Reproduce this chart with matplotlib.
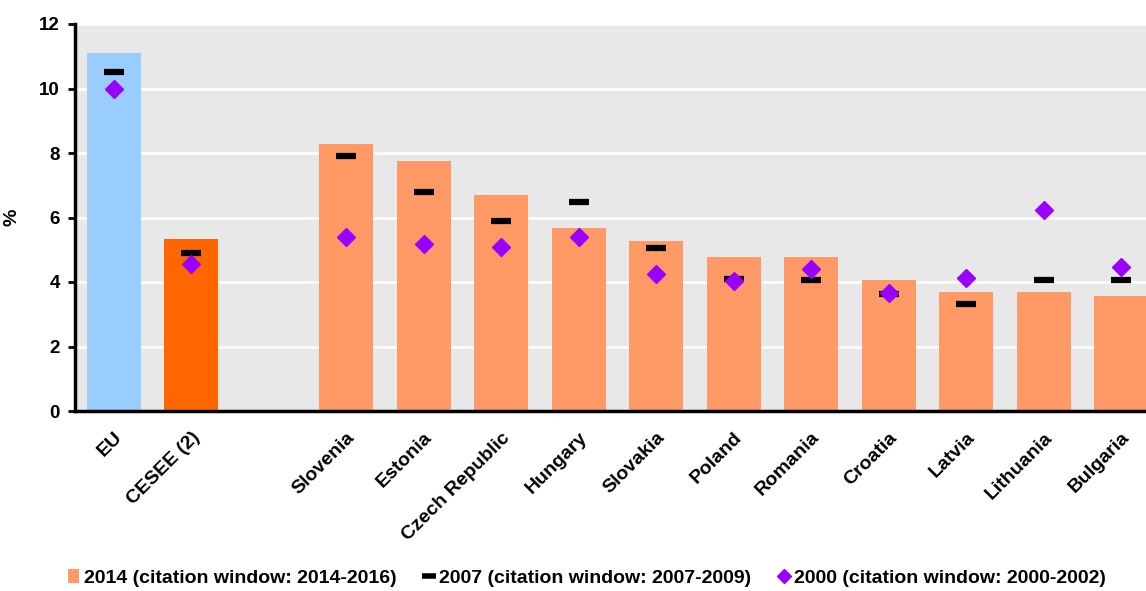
import matplotlib
matplotlib.use("Agg")
import matplotlib.pyplot as plt
from matplotlib.lines import Line2D
from matplotlib.patches import Patch

plt.rcParams["font.family"] = ["Liberation Sans", "DejaVu Sans"]
plt.rcParams["font.weight"] = "bold"

# data (blank slot separates aggregates from countries)
categories = ["EU", "CESEE (2)", "", "Slovenia", "Estonia", "Czech Republic", "Hungary",
              "Slovakia", "Poland", "Romania", "Croatia", "Latvia", "Lithuania", "Bulgaria"]
v2014 = [11.09, 5.33, None, 8.27, 7.74, 6.69, 5.68, 5.26, 4.79, 4.79, 4.05, 3.68, 3.68, 3.58]
v2007 = [10.51, 4.91, None, 7.90, 6.80, 5.90, 6.48, 5.06, 4.10, 4.05, 3.64, 3.32, 4.06, 4.06]
v2000 = [10.0, 4.56, None, 5.40, 5.19, 5.09, 5.40, 4.24, 4.03, 4.40, 3.65, 4.13, 6.24, 4.46]

bar_colors = ["#99CCFF", "#FF6600"] + ["#FF9966"] * 12
purple = "#9900FF"

fig = plt.figure(figsize=(11.46, 5.91), dpi=100)
# plot area runs slightly past the right edge (last bar is cut in the original)
ax = fig.add_axes([75 / 1146, 1 - 411 / 591, 1085 / 1146, 387 / 591])
ax.set_facecolor("#E8E8E8")

idx = [i for i, v in enumerate(v2014) if v is not None]
ax.bar(idx, [v2014[i] for i in idx], width=0.7, color=[bar_colors[i] for i in idx], zorder=2)
ax.plot(idx, [v2007[i] for i in idx], ls="none", marker="_", ms=15, mew=4.5,
        color="black", zorder=3)
ax.plot(idx, [v2000[i] for i in idx], ls="none", marker="D", ms=9, color=purple,
        mec=purple, zorder=4)

ax.set_xlim(-0.5, len(categories) - 0.5)
ax.set_ylim(0, 12)
ax.set_yticks(range(0, 13, 2))
ax.yaxis.grid(True, color="white", lw=1.8, zorder=1)
ax.set_axisbelow(True)

ax.set_xticks(range(len(categories)))
ax.set_xticklabels(categories, rotation=45, ha="right", rotation_mode="anchor", fontsize=14)
ax.tick_params(axis="x", length=0, pad=13)
ax.tick_params(axis="y", labelsize=13.5, direction="out", length=5, width=2, pad=6)
ax.set_ylabel("%", fontsize=14, fontweight="bold")
ax.yaxis.set_label_coords(-55 / 1085, 0.5)

for s in ["top", "right"]:
    ax.spines[s].set_visible(False)
ax.spines["left"].set_linewidth(2.5)
ax.spines["bottom"].set_linewidth(2.5)

handles = [
    Patch(facecolor="#FF9966", edgecolor="none"),
    Line2D([], [], ls="none", marker="_", ms=10, mew=4, color="black"),
    Line2D([], [], ls="none", marker="D", ms=7, color=purple),
]
labels = ["2014 (citation window: 2014-2016)", "2007 (citation window: 2007-2009)",
          "2000 (citation window: 2000-2002)"]
fig.legend(handles, labels, loc="center", bbox_to_anchor=(587 / 1146, 1 - 578 / 591), ncol=3,
           frameon=False, fontsize=14, handlelength=0.55, handletextpad=0.25,
           columnspacing=1.4, handleheight=0.7)

fig.savefig("out.png", dpi=100)
